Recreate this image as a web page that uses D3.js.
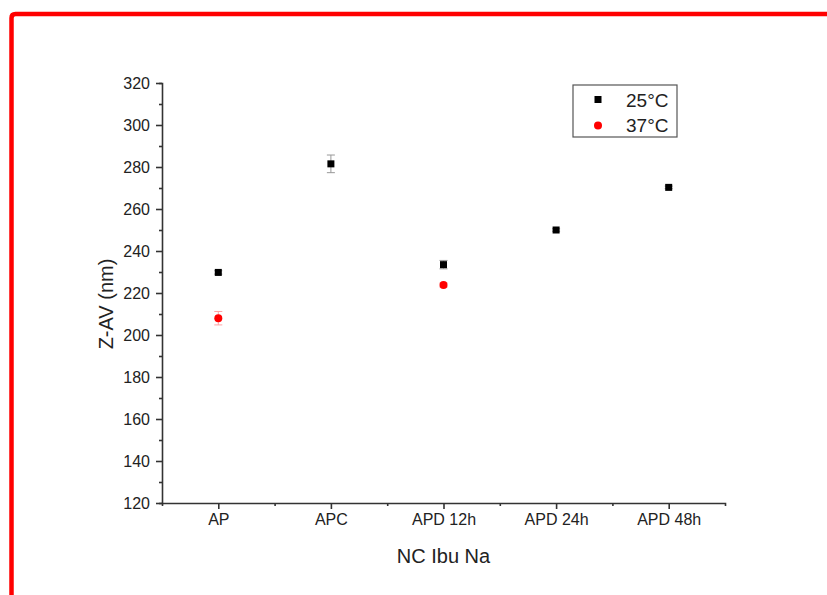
<!DOCTYPE html>
<html>
<head>
<meta charset="utf-8">
<script src="https://cdn.jsdelivr.net/npm/d3@7"></script>
<style>
  body { margin: 0; background: #fff; }
  text { font-family: "Liberation Sans", Arial, sans-serif; fill: #222; }
</style>
</head>
<body>
<div class="chart"></div>
<script>
// Z-average size per formulation, at two temperatures
var categories = ["AP", "APC", "APD 12h", "APD 24h", "APD 48h"];
var z25 = [229.8, 281.5, 233.5, 250, 270.3];
var err25 = [0.8, 4.2, 2.0, 0.6, 0.6];
var z37 = [208, null, 223.8, null, null];
var err37 = [3.2, null, 1.0, null, null];
var yTicks = [120, 140, 160, 180, 200, 220, 240, 260, 280, 300, 320];

var svgWidth = 827, svgHeight = 595;
var margin = { top: 83, right: 102, bottom: 92, left: 162 };
var width = svgWidth - margin.left - margin.right;
var height = svgHeight - margin.top - margin.bottom;

var svg = d3.select(".chart")
    .append("svg")
    .attr("width", svgWidth)
    .attr("height", svgHeight);

// red frame along the top and left edges
svg.append("path")
    .attr("d", "M11.5,595 L11.5,18 Q11.5,14 15.5,14 L827,14")
    .attr("fill", "none")
    .attr("stroke", "#ff0000")
    .attr("stroke-width", 4.5);

var chart = svg.append("g")
    .attr("transform", "translate(" + margin.left + "," + margin.top + ")");

var xScale = d3.scaleLinear().domain([0.5, 5.5]).range([0, width]);
var yScale = d3.scaleLinear().domain([120, 320]).range([height, 0]);

// minor ticks first, under the major ones
chart.append("g")
    .attr("transform", "translate(0," + height + ")")
    .call(d3.axisBottom(xScale).tickValues([1.5, 2.5, 3.5, 4.5]).tickSize(3).tickSizeOuter(0).tickFormat(""))
    .call(function (g) { g.select(".domain").remove(); });

chart.append("g")
    .call(d3.axisLeft(yScale).tickValues(d3.range(130, 320, 20)).tickSize(3).tickFormat(""))
    .call(function (g) { g.select(".domain").remove(); });

var bottomAxis = d3.axisBottom(xScale)
    .tickValues([1, 2, 3, 4, 5])
    .tickSize(6)
    .tickSizeOuter(3)
    .tickPadding(5)
    .tickFormat(function (d) { return categories[d - 1]; });

var leftAxis = d3.axisLeft(yScale)
    .tickValues(yTicks)
    .tickSize(6)
    .tickSizeOuter(3)
    .tickPadding(6);

chart.append("g")
    .attr("class", "x-axis")
    .attr("transform", "translate(0," + height + ")")
    .call(bottomAxis);

chart.append("g")
    .attr("class", "y-axis")
    .call(leftAxis);

chart.selectAll(".tick line, .domain")
    .attr("stroke", "#333")
    .attr("stroke-width", 1.6);
chart.selectAll(".tick text")
    .attr("font-size", null)
    .style("font-size", "16px")
    .attr("fill", "#222");
chart.selectAll(".x-axis, .y-axis").attr("font-size", null).attr("font-family", null);

// error bars
function drawErrors(vals, errs, color) {
    var pts = [];
    vals.forEach(function (v, i) { if (v != null) pts.push({ x: i + 1, y: v, e: errs[i] }); });
    var g = chart.append("g").attr("stroke", color).attr("stroke-width", 1).attr("opacity", 0.6);
    pts.forEach(function (p) {
        var x = xScale(p.x), y0 = yScale(p.y - p.e), y1 = yScale(p.y + p.e);
        g.append("line").attr("x1", x).attr("x2", x).attr("y1", y0).attr("y2", y1);
        g.append("line").attr("x1", x - 4).attr("x2", x + 4).attr("y1", y0).attr("y2", y0);
        g.append("line").attr("x1", x - 4).attr("x2", x + 4).attr("y1", y1).attr("y2", y1);
    });
}
drawErrors(z25, err25, "#555");
drawErrors(z37, err37, "#ff6666");

chart.selectAll("rect.p25")
    .data(z25)
    .enter()
    .append("rect")
    .attr("class", "p25")
    .attr("x", function (d, i) { return xScale(i + 1) - 3.5; })
    .attr("y", function (d) { return yScale(d) - 3.5; })
    .attr("width", 7)
    .attr("height", 7)
    .attr("fill", "#000");

chart.selectAll("circle.p37")
    .data(z37.map(function (v, i) { return { v: v, i: i }; }).filter(function (d) { return d.v != null; }))
    .enter()
    .append("circle")
    .attr("class", "p37")
    .attr("cx", function (d) { return xScale(d.i + 1); })
    .attr("cy", function (d) { return yScale(d.v); })
    .attr("r", 4)
    .attr("fill", "#ff0000");

// axis titles
svg.append("text")
    .attr("transform", "translate(113,304) rotate(-90)")
    .attr("text-anchor", "middle")
    .style("font-size", "20px")
    .text("Z-AV (nm)");

svg.append("text")
    .attr("x", margin.left + width / 2)
    .attr("y", 563)
    .attr("text-anchor", "middle")
    .style("font-size", "20px")
    .text("NC Ibu Na");

// legend
var legend = svg.append("g").attr("transform", "translate(573,85)");
legend.append("rect")
    .attr("width", 104)
    .attr("height", 52)
    .attr("fill", "#fff")
    .attr("stroke", "#555")
    .attr("stroke-width", 1.2);
legend.append("rect").attr("x", 21.5).attr("y", 11).attr("width", 7).attr("height", 7).attr("fill", "#000");
legend.append("circle").attr("cx", 25).attr("cy", 40.5).attr("r", 4).attr("fill", "#ff0000");
legend.append("text").attr("x", 53).attr("y", 22).style("font-size", "19px").text("25°C");
legend.append("text").attr("x", 53).attr("y", 47).style("font-size", "19px").text("37°C");
</script>
</body>
</html>
